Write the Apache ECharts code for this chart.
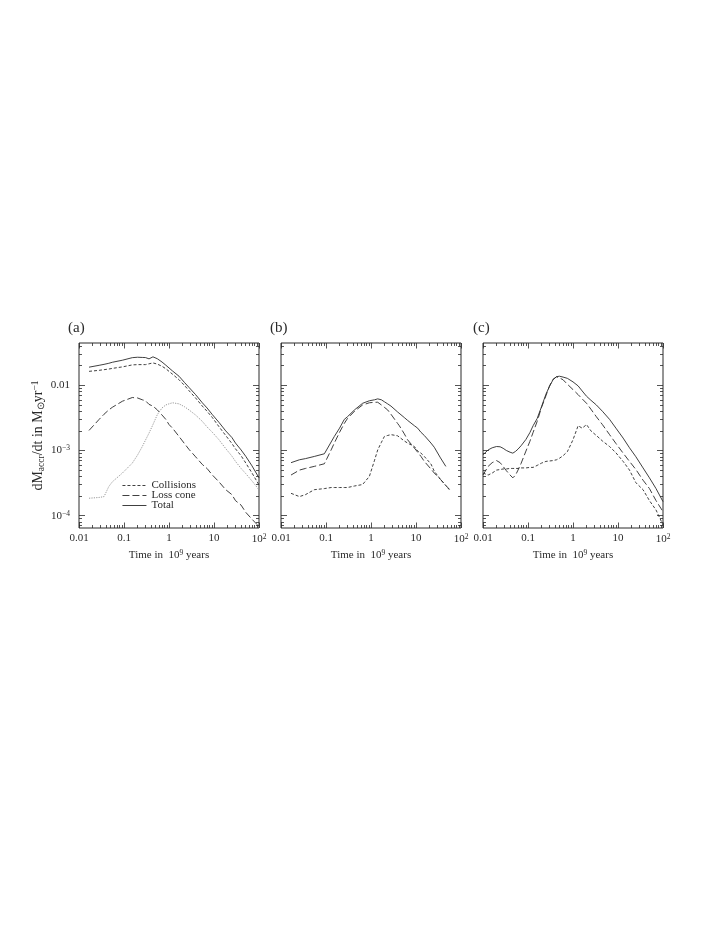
<!DOCTYPE html>
<html>
<head>
<meta charset="utf-8">
<script src="https://cdn.jsdelivr.net/npm/echarts@6/dist/echarts.min.js"></script>
<style>
  html, body { margin: 0; background: #fff; }
  #chart { width: 727px; height: 940px; }
</style>
</head>
<body>
<div id="chart"></div>
<script>
// panel (a): time in 10^9 yr, rates in Msun/yr
const tA = [0.0167, 0.028, 0.036, 0.046, 0.055, 0.092, 0.153, 0.2, 0.255, 0.3, 0.36, 0.44, 0.55, 0.7, 0.85, 1, 1.2, 1.67, 2.2, 2.78, 3.9, 5.5, 7, 9.2, 12.9, 18.2, 25, 30, 40, 51, 70, 100];
const aTotal = [0.0190, 0.0203, 0.0210, 0.0218, 0.0226, 0.0243, 0.0266, 0.0270, 0.0268, 0.0267, 0.0255, 0.0274, 0.0256, 0.0228, 0.0204, 0.0185, 0.0166, 0.0138, 0.0111, 0.0093, 0.0072, 0.0054, 0.0045, 0.00355, 0.0027, 0.0020, 0.00158, 0.0013, 0.00102, 0.00081, 0.00058, 0.00038];
const aColl = [0.0164, 0.0170, 0.0174, 0.0178, 0.0182, 0.0192, 0.0206, 0.0208, 0.0208, 0.0208, 0.0214, 0.0221, 0.0212, 0.0196, 0.0180, 0.0164, 0.0148, 0.0122, 0.0100, 0.0083, 0.0064, 0.0048, 0.0040, 0.0032, 0.00232, 0.0017, 0.00128, 0.00106, 0.00083, 0.00064, 0.00045, 0.000296];
const aLoss = [0.00203, 0.0030, 0.0036, 0.0042, 0.0046, 0.0057, 0.0065, 0.0064, 0.0060, 0.0058, 0.0051, 0.0048, 0.0042, 0.0035, 0.0030, 0.0025, 0.0022, 0.00164, 0.00128, 0.00104, 0.00080, 0.00061, 0.00053, 0.00042, 0.00033, 0.00025, 0.00021, 0.00017, 0.000145, 0.000112, 0.000088, 0.000068];
const aOther = [0.000185, 0.000190, 0.000196, 0.00028, 0.00033, 0.00045, 0.00064, 0.00085, 0.00115, 0.00144, 0.00185, 0.0025, 0.00355, 0.0045, 0.0050, 0.0052, 0.0054, 0.0052, 0.0047, 0.0042, 0.0035, 0.0028, 0.0023, 0.0019, 0.00146, 0.00107, 0.00082, 0.00068, 0.00053, 0.00044, 0.00034, 0.00025];

// panel (b)
const tB = [0.0167, 0.0257, 0.035, 0.055, 0.092, 0.13, 0.153, 0.2, 0.255, 0.3, 0.43, 0.65, 0.71, 0.92, 1.2, 1.41, 1.7, 1.98, 2.34, 2.78, 3.9, 4.26, 5.5, 6.5, 9.2, 10.9, 12.9, 15.3, 21.5, 25.5, 35, 46, 55];
const bTotal = [0.00065, 0.00072, 0.00075, 0.00081, 0.00089, 0.00135, 0.00164, 0.0022, 0.0030, 0.0033, 0.0042, 0.0053, 0.0055, 0.0058, 0.0060, 0.0062, 0.0060, 0.0056, 0.0052, 0.0048, 0.0039, 0.0037, 0.0032, 0.0029, 0.0024, 0.0022, 0.0019, 0.0017, 0.0013, 0.00112, 0.00077, 0.00057, null];
const bColl = [0.00022, 0.000196, 0.00021, 0.00025, 0.00026, 0.00027, 0.00027, 0.00027, 0.00027, 0.00027, 0.000285, 0.00030, 0.00031, 0.00040, 0.00071, 0.00102, 0.00133, 0.00164, 0.0017, 0.00175, 0.00168, 0.00164, 0.0014, 0.0013, 0.00115, 0.00098, 0.00091, 0.00081, 0.00062, 0.00048, 0.00036, 0.00029, 0.00025];
const bLoss = [0.00042, 0.00050, 0.00053, 0.00057, 0.000625, 0.00102, 0.0013, 0.0019, 0.0026, 0.0031, 0.0040, 0.0050, 0.0052, 0.0054, 0.0055, 0.0055, 0.0050, 0.0046, 0.0042, 0.0036, 0.0026, 0.0024, 0.0018, 0.00146, 0.00109, 0.00094, 0.00081, 0.00068, 0.00052, 0.00045, 0.00036, 0.00029, 0.000255];

// panel (c)
const tC = [0.01, 0.013, 0.016, 0.02, 0.024, 0.028, 0.033, 0.04, 0.046, 0.053, 0.06, 0.07, 0.09, 0.11, 0.13, 0.16, 0.2, 0.25, 0.3, 0.36, 0.43, 0.5, 0.6, 0.75, 1, 1.3, 1.6, 2, 2.5, 3.3, 4.5, 6.5, 9, 13, 18, 25, 36, 50, 70, 100];
const cTotal = [0.00086, 0.00102, 0.00110, 0.00115, 0.00114, 0.00108, 0.00100, 0.00094, 0.00091, 0.00097, 0.00105, 0.00118, 0.00148, 0.00188, 0.0024, 0.0031, 0.0047, 0.0073, 0.0096, 0.0122, 0.0136, 0.0138, 0.0134, 0.0128, 0.0113, 0.0098, 0.0082, 0.0068, 0.0059, 0.0050, 0.0040, 0.0030, 0.0022, 0.00155, 0.0011, 0.00080, 0.00054, 0.00038, 0.00026, 0.000164];
const cColl = [0.00045, 0.00042, 0.00045, 0.00050, 0.00051, 0.00052, 0.00052, 0.00053, 0.00053, 0.00053, 0.00053, 0.00054, 0.00054, 0.00055, 0.00055, 0.00059, 0.00064, 0.00068, 0.00069, 0.00070, 0.00072, 0.00076, 0.00083, 0.00096, 0.00146, 0.0024, 0.0022, 0.0025, 0.0020, 0.0017, 0.0014, 0.00115, 0.00092, 0.00068, 0.00050, 0.00032, 0.00025, 0.00017, 0.000122, 0.000072];
const cLoss = [0.00042, 0.00057, 0.00065, 0.00070, 0.00065, 0.00057, 0.00049, 0.00042, 0.00038, 0.00042, 0.00050, 0.00063, 0.00098, 0.00138, 0.0019, 0.0028, 0.0046, 0.0069, 0.0098, 0.0124, 0.0135, 0.0130, 0.0122, 0.0104, 0.0086, 0.0072, 0.0062, 0.0053, 0.0043, 0.0033, 0.0025, 0.00175, 0.00128, 0.00091, 0.00068, 0.00051, 0.00035, 0.00026, 0.00017, 0.000115];

const xTickText = { '-2': '0.01', '-1': '0.1', '0': '1', '1': '10', '2': '{n|10}{s|2}' };
const yTickText = { '-4': '{n|10}{s|−4}', '-3': '{n|10}{s|−3}', '-2': '0.01' };

const FONT = 'Liberation Serif';
const INK = '#2a2a2a';
const X_MIN = -2, X_MAX = 2, Y_MIN = -4.19, Y_MAX = -1.35;
const lefts = [79, 281, 483];

// log-axis minor tick positions (2..9 x 10^n) inside [lo, hi]
function minorTicks(lo, hi) {
  const out = [];
  for (let n = Math.floor(lo) - 1; n <= Math.ceil(hi); n++) {
    for (let k = 2; k <= 9; k++) {
      const v = n + Math.log10(k);
      if (v > lo && v < hi) out.push(v);
    }
  }
  return out;
}
const xMinor = minorTicks(X_MIN, X_MAX);
const yMinor = minorTicks(Y_MIN, Y_MAX);
const xMajor = [-2, -1, 0, 1, 2];
const yMajor = [-4, -3, -2];

const rich = {
  n: { fontFamily: FONT, fontSize: 11, color: INK },
  s: { fontFamily: FONT, fontSize: 7.5, color: INK, padding: [0, 0, 4, 0] }
};

function tick(vals, len) {
  return { show: true, inside: true, length: len, customValues: vals, lineStyle: { color: INK, width: 0.8 } };
}

const grid = [], xAxis = [], yAxis = [];
lefts.forEach((l, g) => {
  grid.push({ left: l, top: 343, width: 180, height: 185, show: true, borderColor: INK, borderWidth: 1 });
  const xb = { type: 'value', gridIndex: g, min: X_MIN, max: X_MAX, axisLine: { show: false, onZero: false }, splitLine: { show: false }, axisLabel: { show: false } };
  xAxis.push(Object.assign({}, xb, {
    position: 'bottom', axisTick: tick(xMajor, 5.5),
    axisLabel: {
      show: true, customValues: xMajor, margin: 5, fontFamily: FONT, fontSize: 11, color: INK, rich: rich,
      formatter: v => xTickText[String(Math.round(v))]
    },
    name: 'Time in  10{s|9} years', nameLocation: 'middle', nameGap: 21,
    nameTextStyle: { fontFamily: FONT, fontSize: 11, color: INK, rich: rich }
  }));
  xAxis.push(Object.assign({}, xb, { position: 'bottom', axisTick: tick(xMinor, 3) }));
  xAxis.push(Object.assign({}, xb, { position: 'top', axisTick: tick(xMajor, 5.5) }));
  xAxis.push(Object.assign({}, xb, { position: 'top', axisTick: tick(xMinor, 3) }));

  const yb = { type: 'value', gridIndex: g, min: Y_MIN, max: Y_MAX, axisLine: { show: false, onZero: false }, splitLine: { show: false }, axisLabel: { show: false } };
  const yMain = Object.assign({}, yb, { position: 'left', axisTick: tick(yMajor, 6) });
  if (g === 0) {
    yMain.axisLabel = {
      show: true, customValues: yMajor, margin: 9, fontFamily: FONT, fontSize: 11, color: INK, rich: rich,
      formatter: v => yTickText[String(Math.round(v))]
    };
    yMain.name = 'dM{sb|accr}/dt in M{sb|⊙}yr{s|−1}';
    yMain.nameLocation = 'middle';
    yMain.nameGap = 30;
    yMain.nameTextStyle = {
      fontFamily: FONT, fontSize: 14, color: INK,
      rich: {
        s: { fontFamily: FONT, fontSize: 9.5, color: INK, padding: [0, 0, 6, 0] },
        sb: { fontFamily: FONT, fontSize: 9.5, color: INK, padding: [7, 0, 0, 0] }
      }
    };
  }
  yAxis.push(yMain);
  yAxis.push(Object.assign({}, yb, { position: 'left', axisTick: tick(yMinor, 3) }));
  yAxis.push(Object.assign({}, yb, { position: 'right', axisTick: tick(yMajor, 6) }));
  yAxis.push(Object.assign({}, yb, { position: 'right', axisTick: tick(yMinor, 3) }));
});

function pts(ts, vs) {
  return ts.map((t, i) => vs[i] == null ? null : [Math.log10(t), Math.log10(vs[i])]).filter(p => p);
}

const styles = {
  'Collisions': { color: INK, width: 0.9, type: [3, 2] },
  'Loss cone': { color: INK, width: 0.9, type: [7, 3] },
  'Total': { color: INK, width: 0.9, type: 'solid' },
  'other': { color: '#9a9a9a', width: 1, type: [1.2, 1.2] }
};

function line(name, g, ts, vs) {
  return {
    name: name, type: 'line', xAxisIndex: g * 4, yAxisIndex: g * 4,
    data: pts(ts, vs), symbol: 'none', showSymbol: false, clip: true,
    lineStyle: styles[name], itemStyle: { color: INK, opacity: 0 }, emphasis: { disabled: true }
  };
}

const series = [
  line('Collisions', 0, tA, aColl),
  line('Loss cone', 0, tA, aLoss),
  line('Total', 0, tA, aTotal),
  line('other', 0, tA, aOther),
  line('Collisions', 1, tB, bColl),
  line('Loss cone', 1, tB, bLoss),
  line('Total', 1, tB, bTotal),
  line('Collisions', 2, tC, cColl),
  line('Loss cone', 2, tC, cLoss),
  line('Total', 2, tC, cTotal)
];

const chart = echarts.init(document.getElementById('chart'));
chart.setOption({
  animation: false,
  backgroundColor: '#fff',
  title: [
    { text: '(a)', left: 68, top: 321 },
    { text: '(b)', left: 270, top: 321 },
    { text: '(c)', left: 473, top: 321 }
  ].map(t => Object.assign(t, { padding: 0, textStyle: { fontFamily: FONT, fontSize: 15, fontWeight: 'normal', color: INK } })),
  legend: {
    data: ['Collisions', 'Loss cone', 'Total'],
    orient: 'vertical', left: 122, top: 480, padding: 0,
    itemWidth: 24, itemHeight: 8, itemGap: -1, selectedMode: false,
    itemStyle: { opacity: 0 },
    lineStyle: { width: 0.9 },
    textStyle: { fontFamily: FONT, fontSize: 11, color: INK, lineHeight: 10 }
  },
  grid: grid,
  xAxis: xAxis,
  yAxis: yAxis,
  series: series
});
</script>
</body>
</html>
